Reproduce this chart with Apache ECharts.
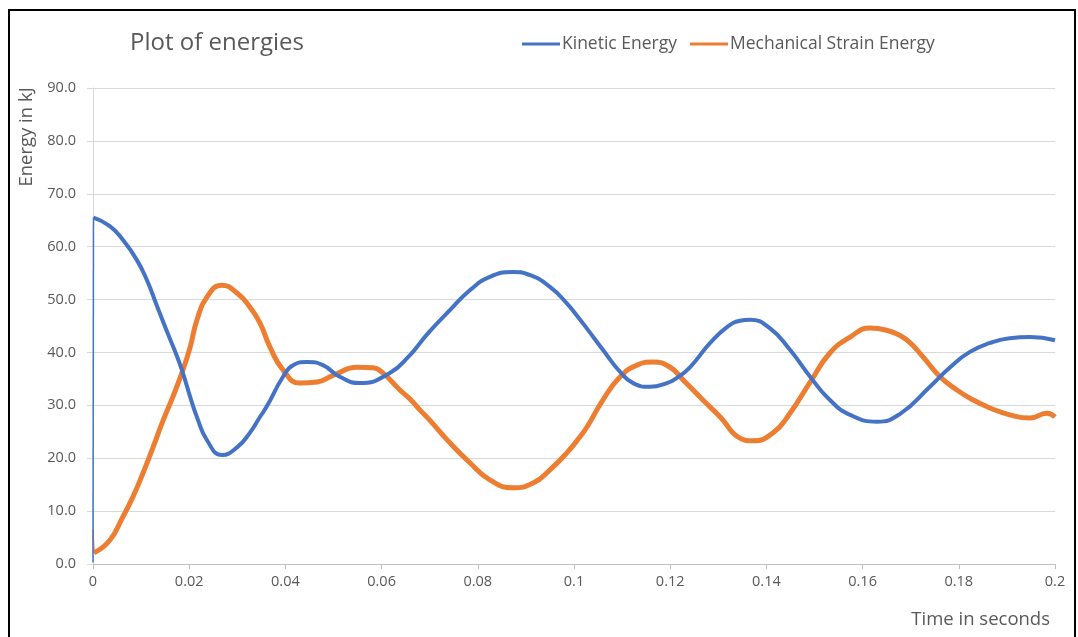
<!DOCTYPE html>
<html>
<head>
<meta charset="utf-8">
<script src="https://cdn.jsdelivr.net/npm/echarts@6/dist/echarts.min.js"></script>
<style>
html,body{margin:0;padding:0;background:#fff;}
#c{width:1078px;height:637px;}
</style>
</head>
<body>
<div id="c"></div>
<script>
const titleText = "Plot of energies";
const seriesNames = ["Kinetic Energy", "Mechanical Strain Energy"];
const yTitle = "Energy in kJ";
const xTitle = "Time in seconds";

const kineticT = [0, 0.0001, 0.0035, 0.0062, 0.0091, 0.0112, 0.0133, 0.0154, 0.0175, 0.0187, 0.0202, 0.0216, 0.0237, 0.0268, 0.030, 0.0326, 0.0347, 0.0362, 0.0395, 0.0416, 0.0445, 0.0478, 0.0513, 0.0555, 0.0617, 0.0659, 0.068, 0.070, 0.0742, 0.0784, 0.0825, 0.0873, 0.0909, 0.095, 0.0985, 0.1003, 0.1027, 0.106, 0.1096, 0.1123, 0.1158, 0.1193, 0.1214, 0.1241, 0.1283, 0.1318, 0.1345, 0.1366, 0.1407, 0.1449, 0.1491, 0.1532, 0.1574, 0.163, 0.1678, 0.174, 0.1782, 0.1823, 0.1865, 0.1906, 0.1948, 0.2];
const kineticE = [0.3, 65.5, 63.9, 61.3, 57.5, 53.7, 48.8, 43.9, 39.2, 36.1, 31.6, 27.8, 23.4, 20.6, 22.1, 24.8, 27.8, 29.9, 35.4, 37.6, 38.2, 37.6, 35.4, 34.2, 36.1, 39.5, 41.8, 44.0, 48.0, 51.8, 54.3, 55.2, 54.6, 52.4, 49.3, 47.3, 44.5, 40.5, 36.3, 34.2, 33.5, 34.2, 35.2, 37.2, 41.8, 44.8, 46.0, 46.2, 44.6, 40.5, 35.4, 31.0, 28.2, 26.9, 28.4, 33.5, 37.2, 40.1, 41.8, 42.7, 42.9, 42.3];

const strainT = [0, 0.0002, 0.0035, 0.0062, 0.0083, 0.0104, 0.0125, 0.0146, 0.0166, 0.0187, 0.0202, 0.0216, 0.0237, 0.0268, 0.030, 0.0326, 0.0347, 0.0368, 0.0395, 0.043, 0.0466, 0.050, 0.0549, 0.0582, 0.0603, 0.0638, 0.0659, 0.068, 0.070, 0.0742, 0.0784, 0.0825, 0.0873, 0.0915, 0.095, 0.0985, 0.1012, 0.1027, 0.106, 0.1096, 0.1131, 0.1164, 0.12, 0.1227, 0.1268, 0.1304, 0.1345, 0.1372, 0.1414, 0.1449, 0.1491, 0.1532, 0.1574, 0.1615, 0.165, 0.1678, 0.1699, 0.1726, 0.1761, 0.1796, 0.183, 0.1865, 0.1906, 0.1948, 0.1983, 0.2];
const strainE = [6.5, 2.1, 4.5, 8.9, 12.7, 17.2, 22.1, 27.2, 31.6, 36.7, 41.0, 46.1, 50.5, 52.7, 51.2, 48.6, 45.6, 41.0, 36.7, 34.2, 34.4, 35.7, 37.2, 37.1, 36.1, 32.9, 31.2, 29.1, 27.2, 22.9, 19.1, 15.9, 14.4, 15.3, 17.8, 21.0, 24.0, 25.9, 31.0, 35.4, 37.6, 38.2, 37.2, 34.8, 31.0, 27.8, 23.8, 23.3, 24.8, 28.5, 34.4, 39.9, 42.9, 44.6, 44.2, 43.2, 41.8, 39.1, 35.4, 32.9, 31.0, 29.5, 28.2, 27.6, 28.5, 27.8];

const xMin = 0, xMax = 0.2, xStep = 0.02;
const yMin = 0, yMax = 90, yStep = 10;

const pair = (t, v) => t.map((x, i) => [x, v[i]]);
const blue = '#4472C4', orange = '#ED7D31';
const txt = '#595959';
const font = '"Open Sans", "Noto Sans", sans-serif';

const kin = pair(kineticT, kineticE);
const str = pair(strainT, strainE);

const chart = echarts.init(document.getElementById('c'), null, {renderer: 'canvas'});
chart.setOption({
  animation: false,
  backgroundColor: '#fff',
  textStyle: {fontFamily: font},
  grid: {left: 93, right: 23, top: 88, bottom: 73},
  legend: {
    left: 517, top: 30,
    itemWidth: 38, itemHeight: 3, itemGap: 13,
    icon: 'rect',
    textStyle: {color: txt, fontSize: 17.5, fontFamily: font, padding: [0, 0, 0, -3]},
    data: seriesNames
  },
  xAxis: {
    type: 'value', min: xMin, max: xMax, interval: xStep,
    axisLine: {show: true, lineStyle: {color: '#bfbfbf', width: 1}},
    axisTick: {show: true, length: 5, lineStyle: {color: '#bfbfbf'}},
    splitLine: {show: false},
    axisLabel: {color: txt, fontSize: 14.5, margin: 10, fontFamily: font,
      formatter: v => String(Math.round(v * 100) / 100)}
  },
  yAxis: {
    type: 'value', min: yMin, max: yMax, interval: yStep,
    axisLine: {show: true, lineStyle: {color: '#d9d9d9', width: 1}},
    axisTick: {show: true, length: 6, lineStyle: {color: '#d9d9d9'}},
    splitLine: {show: true, lineStyle: {color: '#d9d9d9', width: 1}},
    axisLabel: {color: txt, fontSize: 14.5, margin: 17, fontFamily: font,
      formatter: v => v.toFixed(1)}
  },
  series: [
    {
      name: seriesNames[0], type: 'line', data: kin.slice(1),
      showSymbol: false, smooth: 0.5,
      lineStyle: {color: blue, width: 4},
      itemStyle: {color: blue}, z: 3
    },
    {
      name: seriesNames[0], type: 'line', data: kin.slice(0, 2),
      showSymbol: false, smooth: false,
      lineStyle: {color: blue, width: 1.5},
      itemStyle: {color: blue}, z: 3
    },
    {
      name: seriesNames[1], type: 'line', data: str.slice(1),
      showSymbol: false, smooth: 0.5,
      lineStyle: {color: orange, width: 5},
      itemStyle: {color: orange}, z: 2
    },
    {
      name: seriesNames[1], type: 'line', data: str.slice(0, 2),
      showSymbol: false, smooth: false,
      lineStyle: {color: orange, width: 1.5},
      itemStyle: {color: orange}, z: 2
    }
  ],
  graphic: [
    {type: 'rect', shape: {x: 9, y: 10, width: 1066, height: 640},
      style: {fill: 'none', stroke: '#000', lineWidth: 2}, silent: true, z: 100},
    {type: 'text', left: 130, top: 31,
      style: {text: titleText, fill: txt, fontSize: 24, fontFamily: font}},
    {type: 'text', x: 27, y: 137, rotation: Math.PI / 2,
      style: {text: yTitle, fill: txt, fontSize: 18.5, fontFamily: font, align: 'center', verticalAlign: 'middle'}},
    {type: 'text', x: 1050, y: 620,
      style: {text: xTitle, fill: txt, fontSize: 18.5, fontFamily: font, align: 'right', verticalAlign: 'middle'}}
  ]
});
</script>
</body>
</html>
